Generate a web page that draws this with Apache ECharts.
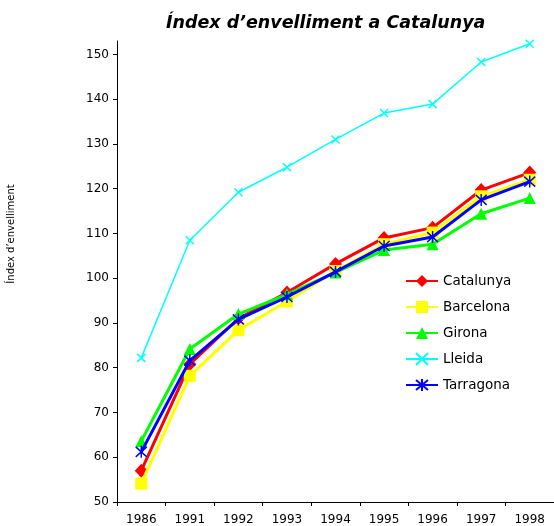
<!DOCTYPE html>
<html>
<head>
<meta charset="utf-8">
<script src="https://cdn.jsdelivr.net/npm/echarts@6/dist/echarts.min.js"></script>
<style>html,body{margin:0;padding:0;background:#fff}#c{width:554px;height:526px}</style>
</head>
<body>
<div id="c"></div>
<script>
var years = ['1986','1991','1992','1993','1994','1995','1996','1997','1998'];
var catalunya = [57.0, 80.8, 91.0, 96.8, 103.2, 109.0, 111.3, 119.7, 123.6];
var barcelona = [54.1, 78.2, 88.4, 94.8, 101.6, 107.6, 110.2, 118.3, 122.0];
var girona    = [63.6, 84.2, 92.0, 96.4, 101.3, 106.3, 107.6, 114.4, 117.9];
var lleida    = [82.2, 108.5, 119.2, 124.8, 131.0, 136.9, 138.9, 148.3, 152.4];
var tarragona = [61.2, 81.6, 90.8, 95.8, 101.4, 107.2, 109.2, 117.5, 121.6];
var yTicks = [50, 60, 70, 80, 90, 100, 110, 120, 130, 140, 150];

var FONT = 'DejaVu Sans';
var chart = echarts.init(document.getElementById('c'), null, {renderer: 'canvas'});
function mk(name, data, color, symbol, size, lw, extra) {
  var s = {
    name: name, type: 'line', data: data,
    symbol: symbol, symbolSize: size, showSymbol: true,
    lineStyle: {color: color, width: lw},
    itemStyle: {color: color},
    emphasis: {disabled: true},
    animation: false
  };
  if (extra) { for (var k in extra) s[k] = extra[k]; }
  return s;
}
var xPath = 'path://M0,0L10,10M0,10L10,0';
var astPath = 'path://M0,0L10,10M0,10L10,0M5,-1L5,11';
chart.setOption({
  animation: false,
  title: {
    text: 'Índex d\u2019envelliment a Catalunya',
    left: 161, top: 9,
    textStyle: {fontFamily: FONT, fontSize: 17.5, fontWeight: 'bold', fontStyle: 'italic', color: '#000'}
  },
  graphic: [{
    type: 'text', x: 11, y: 234, rotation: Math.PI / 2,
    style: {text: 'Índex d\u2019envelliment', font: '10px "DejaVu Sans"', fill: '#000', align: 'center', verticalAlign: 'middle'}
  }],
  legend: {
    orient: 'vertical', left: 400, top: 269,
    itemWidth: 32, itemHeight: 15, itemGap: 12,
    textStyle: {fontFamily: FONT, fontSize: 13.5, color: '#000'},
    data: ['Catalunya', 'Barcelona', 'Girona', 'Lleida', 'Tarragona']
  },
  grid: {left: 117, top: 41, width: 441, bottom: 23, containLabel: false},
  xAxis: {
    type: 'category', data: years, boundaryGap: true,
    axisLine: {lineStyle: {color: '#000', width: 1}},
    axisTick: {show: true, length: 4, lineStyle: {color: '#000'}},
    axisLabel: {fontFamily: FONT, fontSize: 12, color: '#000', margin: 12, interval: 0},
    splitLine: {show: false}
  },
  yAxis: {
    type: 'value', min: 50, max: 153, interval: 10,
    axisLine: {show: true, lineStyle: {color: '#000', width: 1}},
    axisTick: {show: true, length: 4, lineStyle: {color: '#000'}, customValues: yTicks},
    axisLabel: {fontFamily: FONT, fontSize: 12, color: '#000', margin: 8, customValues: yTicks},
    splitLine: {show: false}
  },
  series: [
    mk('Catalunya', catalunya, '#ff0000', 'diamond', [13, 14], 3, {z: 2}),
    mk('Barcelona', barcelona, '#ffff00', 'rect', 12, 3, {z: 3}),
    mk('Girona', girona, '#00ff00', 'triangle', 12, 3, {z: 4}),
    mk('Lleida', lleida, '#00ffff', xPath, 8, 1.5, {z: 5, itemStyle: {color: '#00ffff', borderColor: '#00ffff', borderWidth: 1.5}}),
    mk('Tarragona', tarragona, '#0000ff', astPath, [11, 12], 3, {z: 6, itemStyle: {color: '#0000ff', borderColor: '#0000ff', borderWidth: 1.5}})
  ]
});
</script>
</body>
</html>
